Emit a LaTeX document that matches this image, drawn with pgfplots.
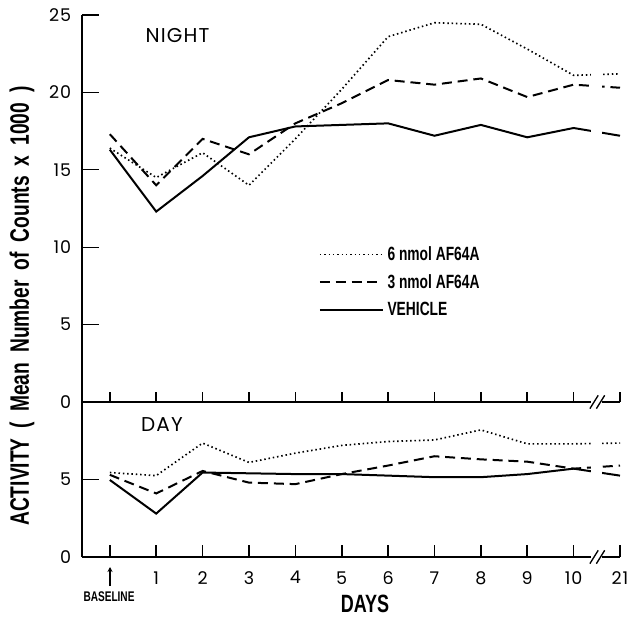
\documentclass[border=0pt]{standalone}
\usepackage{fontspec}
\usepackage{pgfplots}
\pgfplotsset{compat=1.18}
\usetikzlibrary{arrows.meta}
\newfontfamily\geo{Poppins}
\newfontfamily\cond[FakeStretch=0.72]{Liberation Sans}
\tikzset{uptick/.style={black, line width=1pt}}

% night values (x = 11 stands for day 21)
\pgfplotstableread{
x  six   three vehicle
0  16.4  17.3  16.3
1  14.5  14.0  12.3
2  16.1  17.0  14.6
3  14.0  16.0  17.1
4  17.0  18.0  17.8
5  20.2  19.3  17.9
6  23.6  20.8  18.0
7  24.5  20.5  17.2
8  24.4  20.9  17.9
9  22.8  19.7  17.1
10 21.1  20.5  17.7
11 21.2  20.3  17.2
}\night
\pgfplotstableread{
x  six   three vehicle
0  5.45  5.30  4.97
1  5.25  4.10  2.80
2  7.35  5.55  5.45
3  6.10  4.80  5.40
4  6.70  4.70  5.35
5  7.20  5.35  5.35
6  7.45  5.90  5.25
7  7.55  6.50  5.15
8  8.20  6.30  5.15
9  7.30  6.15  5.35
10 7.30  5.70  5.70
11 7.35  5.90  5.25
}\day

\begin{document}
\begin{tikzpicture}
\pgfplotsset{
  panel/.style={
    scale only axis, width=322.8pt, set layers, clip=false,
    xmin=-0.6, xmax=11, ymin=0,
    axis x line=bottom, axis y line=left, axis line style={-, line width=1pt},
    xtick={0,1,2,3,4,5,6,7,8,9,10,11}, ytick=\empty,
    x tick style={draw=none},
    extra y tick style={tick align=inside, major tick length=10pt,
      tick style={line width=0.8pt, black}},
    tick label style={font=\geo\addfontfeature{LetterSpace=5}\fontsize{10.5}{11}\selectfont},
    yticklabel style={xshift=-3pt},
    /pgf/number format/assume math mode=true,
  },
  s6/.style={black, line width=1pt, dash pattern=on 0.9pt off 1.7pt},
  s3/.style={black, line width=1.2pt, dash pattern=on 6pt off 3.5pt},
  sv/.style={black, line width=1.2pt},
}

\begin{axis}[panel, name=day, at={(0pt,0pt)}, anchor=south west,
  height=93pt, ymax=10, extra y ticks={0,5},
  xticklabels={,1,2,3,4,5,6,7,8,9,10,21},
  xticklabel style={yshift=-3pt}]
\addplot[s6] table[x=x, y=six] {\day};
\addplot[s3] table[x=x, y=three] {\day};
\addplot[sv] table[x=x, y=vehicle] {\day};
\begin{pgfonlayer}{axis foreground}
\draw[uptick] (axis cs:0,0) -- ++(0pt,7pt)  (axis cs:1,0) -- ++(0pt,7pt)
  (axis cs:2,0) -- ++(0pt,7pt)  (axis cs:3,0) -- ++(0pt,7pt)
  (axis cs:4,0) -- ++(0pt,7pt)  (axis cs:5,0) -- ++(0pt,7pt)
  (axis cs:6,0) -- ++(0pt,7pt)  (axis cs:7,0) -- ++(0pt,7pt)
  (axis cs:8,0) -- ++(0pt,7pt)  (axis cs:9,0) -- ++(0pt,7pt)
  (axis cs:10,0) -- ++(0pt,7pt) (axis cs:11,0) -- ++(0pt,7pt);
\fill[white] (axis cs:10.38,-0.45) rectangle (axis cs:10.62,9.5);
\draw[line width=0.8pt] (axis cs:10.44,0) ++(-2.5pt,-4pt) -- ++(5pt,8pt);
\draw[line width=0.8pt] (axis cs:10.58,0) ++(-2.5pt,-4pt) -- ++(5pt,8pt);
\end{pgfonlayer}
\end{axis}

\begin{axis}[panel, name=night, at={(0pt,93pt)}, anchor=south west,
  height=232.2pt, ymax=25, extra y ticks={0,5,...,25},
  xticklabels={},
  legend style={at={(axis cs:4.5,10.3)}, anchor=north west, draw=none,
    fill=none, inner sep=0pt, row sep=3pt,
    font=\cond\bfseries\fontsize{11.5}{12}\selectfont},
  legend cell align=left,
  legend image code/.code={\draw[#1] (0pt,0pt) -- (38pt,0pt);}]
\addplot[s6] table[x=x, y=six] {\night};
\addlegendentry{6 nmol AF64A}
\addplot[s3] table[x=x, y=three] {\night};
\addlegendentry{3 nmol AF64A}
\addplot[sv] table[x=x, y=vehicle] {\night};
\addlegendentry{VEHICLE}
\begin{pgfonlayer}{axis foreground}
\draw[uptick] (axis cs:0,0) -- ++(0pt,6pt)  (axis cs:1,0) -- ++(0pt,6pt)
  (axis cs:2,0) -- ++(0pt,6pt)  (axis cs:3,0) -- ++(0pt,6pt)
  (axis cs:4,0) -- ++(0pt,6pt)  (axis cs:5,0) -- ++(0pt,6pt)
  (axis cs:6,0) -- ++(0pt,6pt)  (axis cs:7,0) -- ++(0pt,6pt)
  (axis cs:8,0) -- ++(0pt,6pt)  (axis cs:9,0) -- ++(0pt,6pt)
  (axis cs:10,0) -- ++(0pt,6pt) (axis cs:11,0) -- ++(0pt,6pt);
\fill[white] (axis cs:10.38,-0.3) rectangle (axis cs:10.62,24);
\draw[line width=0.8pt] (axis cs:10.44,0) ++(-2.5pt,-4pt) -- ++(5pt,8pt);
\draw[line width=0.8pt] (axis cs:10.58,0) ++(-2.5pt,-4pt) -- ++(5pt,8pt);
\end{pgfonlayer}
\end{axis}

\node[font=\geo\addfontfeature{LetterSpace=6}\fontsize{12}{13}\selectfont] at (57.3pt,312.6pt) {NIGHT};
\node[font=\geo\addfontfeature{LetterSpace=6}\fontsize{12}{13}\selectfont] at (48pt,79.2pt) {DAY};
\node[rotate=90, font=\cond\bfseries\fontsize{16}{17}\selectfont] at (-36pt,150.6pt)
  {\spaceskip=6pt ACTIVITY ( Mean Number of Counts x 1000 )};
\node[font=\cond\bfseries\fontsize{15}{16}\selectfont] at (169.8pt,-28.2pt) {DAYS};
\node[font=\cond\bfseries\fontsize{8.4}{9}\selectfont] at (16.2pt,-24pt) {BASELINE};
\draw[-{Stealth[length=3pt,width=3pt]}, line width=0.7pt] (16.8pt,-17.4pt) -- (16.8pt,-6pt);
\pgfresetboundingbox
\useasboundingbox (-49.2pt,-37.2pt) rectangle (327pt,334.2pt);
\end{tikzpicture}
\end{document}
